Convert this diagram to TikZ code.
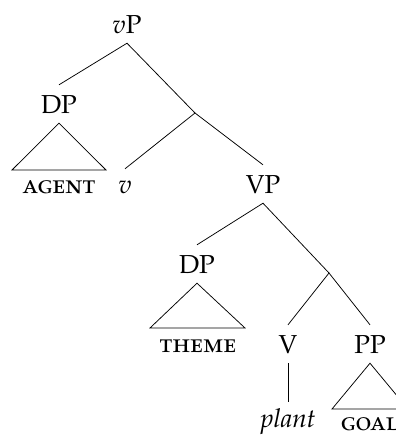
\documentclass[tikz,border=0pt]{standalone}
\usepackage[T1]{fontenc}
\usepackage[sc]{mathpazo}
\begin{document}
\begin{tikzpicture}[x=1pt,y=-1pt,
  every node/.style={font=\fontsize{26}{30}\selectfont},
  lab/.style={inner xsep=0pt, inner ysep=10pt, text height=18pt, text depth=0pt, anchor=base},
  leaf/.style={inner sep=0pt, anchor=base},
  edge/.style={line width=0.75pt}]
\useasboundingbox (0,0) rectangle (396,437);
% labels
\node[lab] (vP) at (127,33) {$v$P};
\node[lab] (DPa) at (59,113) {DP};
\node[lab, text height=14pt] (v) at (125,193) {$v$};
\node[lab] (VP) at (263,193) {VP};
\node[lab] (DPb) at (197,273) {DP};
\node[lab] (V) at (288,353) {V};
\node[lab] (PP) at (370,353) {PP};
\node[lab, inner ysep=7pt] (plant) at (288,427) {\textit{plant}};
\node[leaf] (agent) at (59,193) {\textsc{agent}};
\node[leaf] (theme) at (198,352) {\textsc{theme}};
\node[leaf] (goal) at (370,430) {\textsc{goal}};
% junctions and triangle corners
\coordinate (j1) at (195,113);
\coordinate (j2) at (329,273);
\coordinate (ta1) at (12,170);
\coordinate (tb1) at (106,170);
\coordinate (ta2) at (150,328);
\coordinate (tb2) at (245,328);
\coordinate (ta3) at (332,409);
\coordinate (tb3) at (408,409);
% branches
\draw[edge] (DPa.north) -- (vP.south) -- (j1);
\draw[edge] (v.north) -- (j1) -- (VP.north);
\draw[edge] (DPb.north) -- (VP.south) -- (j2);
\draw[edge] (V.north) -- (j2) -- (PP.north);
\draw[edge] (V.south) -- (plant.north);
% triangles
\draw[edge] (DPa.south) -- (ta1) -- (tb1) -- cycle;
\draw[edge] (DPb.south) -- (ta2) -- (tb2) -- cycle;
\draw[edge] (PP.south) -- (ta3) -- (tb3) -- cycle;
\end{tikzpicture}
\end{document}
